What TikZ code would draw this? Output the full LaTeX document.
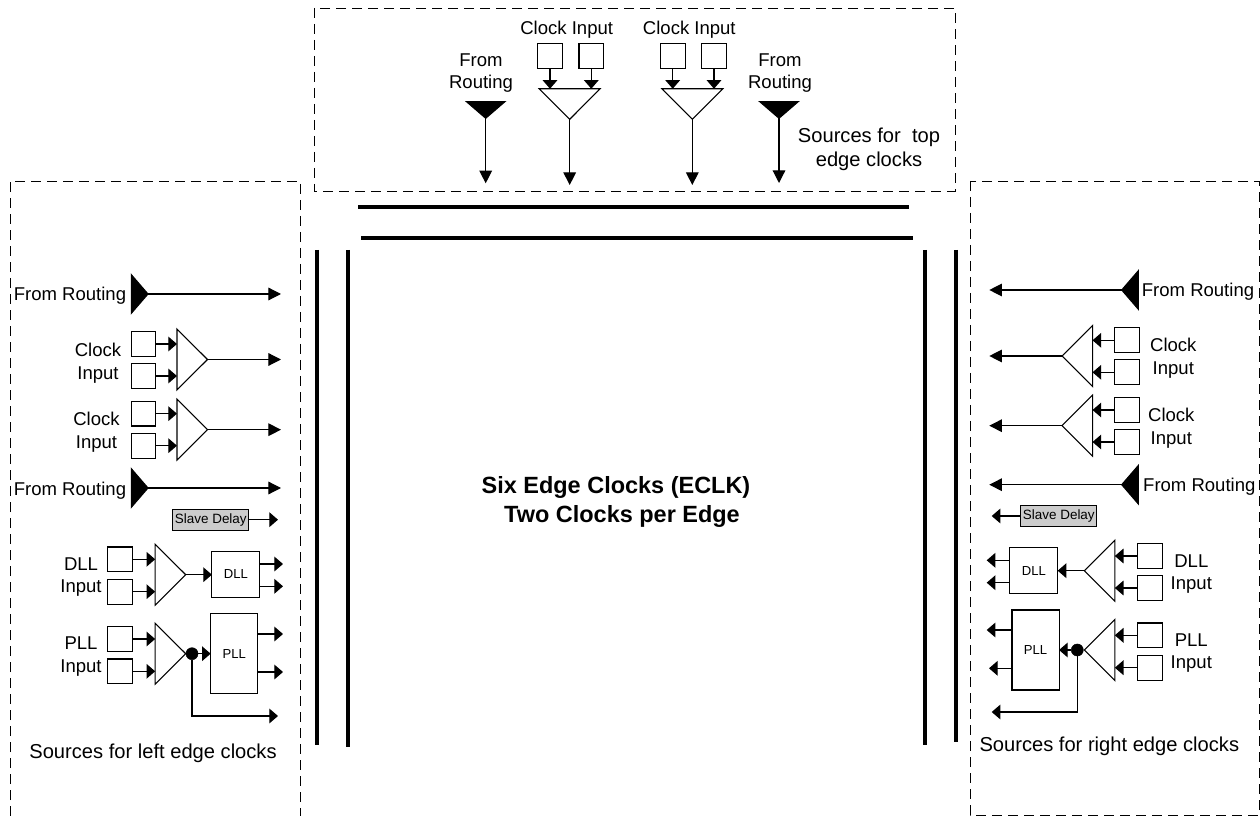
\documentclass[tikz,border=0pt]{standalone}
\usepackage{fontspec}
\setmainfont{Liberation Sans}
\usetikzlibrary{arrows.meta,shapes.geometric}
\tikzset{
	lbl/.style={inner sep=0,align=center,yshift=-1.5pt,font=\fontsize{13.9}{17}\selectfont},
	srclbl/.style={lbl,font=\fontsize{15.1}{18}\selectfont},
	sq/.style={draw,rectangle,line width=0.8pt,inner sep=0,outer sep=0,minimum size=18.5pt},
	blk/.style={draw,rectangle,line width=0.8pt,inner sep=0,outer sep=0,font=\fontsize{9.8}{12}\selectfont},
	dly/.style={blk,fill=black!20,minimum width=56.8pt,minimum height=16pt,font=\fontsize{10.1}{12}\selectfont},
	buf/.style={draw,isosceles triangle,isosceles triangle stretches,line width=0.8pt,inner sep=0,outer sep=0,
		minimum width=45.75pt,minimum height=22.9pt,anchor=apex},
	rte/.style={buf,fill=black,minimum width=29pt,minimum height=12.5pt},
	sig/.style={line width=0.9pt,-{Triangle[length=9.5pt,width=9.5pt]}},
	stub/.style={line width=0.9pt,-{Triangle[length=6.5pt,width=11pt]}},
	edgebar/.style={line width=3pt},
	frame/.style={line width=0.7pt,dash pattern=on 7.5pt off 4.5pt},
	jn/.style={draw,circle,fill=black,inner sep=0,outer sep=0,minimum size=9pt}
}
\begin{document}
\begin{tikzpicture}[x=0.75pt,y=-0.75pt]
	\useasboundingbox (0,0) rectangle (1260,816);
	\draw[frame] (10,816)--(10,181)--(300,181)--(300,816);
	\draw[frame] (314,8) rectangle (955,191);
	\draw[frame] (970,181) rectangle (1259,815);
	\draw[edgebar] (358,207)--(909,207);
	\draw[edgebar] (361,238)--(913,238);
	\draw[edgebar] (317,250)--(317,745);
	\draw[edgebar] (348,250)--(348,747);
	\draw[edgebar] (925,250)--(925,745);
	\draw[edgebar] (956,250)--(956,742);
	\draw (616,485) node (ttl1)[lbl,font=\fontsize{17.6}{22}\selectfont\bfseries]{Six Edge Clocks (ECLK)};
	\draw (622,514) node (ttl2)[lbl,font=\fontsize{17.6}{22}\selectfont\bfseries]{Two Clocks per Edge};

	% top edge
	\draw (481,71) node (tl1)[lbl]{From\\Routing};
	\draw (780,71) node (tl2)[lbl]{From\\Routing};
	\draw (566.7,27.5) node (tl3)[lbl]{Clock Input};
	\draw (689.3,27.5) node (tl4)[lbl]{Clock Input};
	\draw (869,147) node (tsrc)[srclbl]{Sources for~~top\\edge clocks};
	\draw (485.7,118.3) node (tr1)[rte,shape border rotate=-90]{};
	\draw (779,118.3) node (tr2)[rte,shape border rotate=-90]{};
	\draw (569.7,119.3) node (tb1)[buf,shape border rotate=-90]{};
	\draw (692.3,119.3) node (tb2)[buf,shape border rotate=-90]{};
	\draw (550,56) node (ts1)[sq]{};
	\draw (591.3,56) node (ts2)[sq]{};
	\draw (672.7,56) node (ts3)[sq]{};
	\draw (714,56) node (ts4)[sq]{};
	\coordinate (te1) at (485.7,183.3);
	\coordinate (te2) at (569.7,185);
	\coordinate (te3) at (692.3,185);
	\coordinate (te4) at (779,183);
	\draw[sig] (tr1.apex)--(te1);
	\draw[sig] (tb1.apex)--(te2);
	\draw[sig] (tb2.apex)--(te3);
	\draw[sig] (tr2.apex)--(te4);
	\draw[stub] (ts1.south)--(ts1.south|-tb1.lower side);
	\draw[stub] (ts2.south)--(ts2.south|-tb1.lower side);
	\draw[stub] (ts3.south)--(ts3.south|-tb2.lower side);
	\draw[stub] (ts4.south)--(ts4.south|-tb2.lower side);

	% left edge
	\draw (70,294) node (ll1)[lbl]{From Routing};
	\draw (70,489) node (ll2)[lbl]{From Routing};
	\draw (98,361) node (ll3)[lbl]{Clock\\Input};
	\draw (96.5,430) node (ll4)[lbl]{Clock\\Input};
	\draw (81,575) node (ll5)[lbl]{DLL\\Input};
	\draw (81,654.5) node (ll6)[lbl]{PLL\\Input};
	\draw (153,751) node (lsrc)[srclbl]{Sources for left edge clocks};
	\draw (148,294) node (lr1)[rte]{};
	\draw (148,488) node (lr2)[rte]{};
	\draw (207.5,359.5) node (lb1)[buf]{};
	\draw (207.5,429.7) node (lb2)[buf]{};
	\draw (185.7,574.7) node (lb3)[buf]{};
	\draw (185.7,653.7) node (lb4)[buf]{};
	\draw (143.5,344) node (ls1)[sq]{};
	\draw (143.5,376) node (ls2)[sq]{};
	\draw (143.5,413.7) node (ls3)[sq]{};
	\draw (143.5,445.7) node (ls4)[sq]{};
	\draw (119.7,559.3) node (ls5)[sq]{};
	\draw (119.7,591.7) node (ls6)[sq]{};
	\draw (119.7,639) node (ls7)[sq]{};
	\draw (119.7,671.3) node (ls8)[sq]{};
	\draw (210.8,519.7) node (ldly)[dly]{Slave Delay};
	\draw (235.8,574.3) node (ldll)[blk,minimum width=35.8pt,minimum height=34.5pt]{DLL};
	\draw (234.2,653.7) node (lpll)[blk,minimum width=35.3pt,minimum height=60pt]{PLL};
	\draw (192,653.7) node (ljn)[jn]{};
	\coordinate (le1) at (281,294);
	\coordinate (le2) at (281,359.5);
	\coordinate (le3) at (281,429.7);
	\coordinate (le4) at (281,488);
	\coordinate (le5) at (278,519.7);
	\coordinate (le6) at (283,564);
	\coordinate (le7) at (283,586.3);
	\coordinate (le8) at (283,634);
	\coordinate (le9) at (283,672);
	\coordinate (le10) at (278,716);
	\draw[sig] (lr1.apex)--(le1);
	\draw[sig] (lb1.apex)--(le2);
	\draw[sig] (lb2.apex)--(le3);
	\draw[sig] (lr2.apex)--(le4);
	\draw[stub] (ldly.east)--(le5);
	\draw[stub] (ldll.east|-le6)--(le6);
	\draw[stub] (ldll.east|-le7)--(le7);
	\draw[stub] (lpll.east|-le8)--(le8);
	\draw[stub] (lpll.east|-le9)--(le9);
	\draw[stub] (ljn)|-(le10);
	\draw[stub] (ls1.east)--(ls1.east-|lb1.lower side);
	\draw[stub] (ls2.east)--(ls2.east-|lb1.lower side);
	\draw[stub] (ls3.east)--(ls3.east-|lb2.lower side);
	\draw[stub] (ls4.east)--(ls4.east-|lb2.lower side);
	\draw[stub] (ls5.east)--(ls5.east-|lb3.lower side);
	\draw[stub] (ls6.east)--(ls6.east-|lb3.lower side);
	\draw[stub] (ls7.east)--(ls7.east-|lb4.lower side);
	\draw[stub] (ls8.east)--(ls8.east-|lb4.lower side);
	\draw[stub] (lb3.apex)--(lb3.apex-|ldll.west);
	\draw[stub] (ljn)--(lpll.west);

	% right edge
	\draw (1198,290) node (rl1)[lbl]{From Routing};
	\draw (1199.3,484.7) node (rl2)[lbl]{From Routing};
	\draw (1173.3,356.5) node (rl3)[lbl]{Clock\\Input};
	\draw (1171.3,426) node (rl4)[lbl]{Clock\\Input};
	\draw (1191.3,572) node (rl5)[lbl]{DLL\\Input};
	\draw (1191.3,651) node (rl6)[lbl]{PLL\\Input};
	\draw (1109.3,744) node (rsrc)[srclbl]{Sources for right edge clocks};
	\draw (1121.7,290) node (rr1)[rte,shape border rotate=180]{};
	\draw (1121.7,484.7) node (rr2)[rte,shape border rotate=180]{};
	\draw (1062,356) node (rb1)[buf,shape border rotate=180]{};
	\draw (1062,425.7) node (rb2)[buf,shape border rotate=180]{};
	\draw (1084.3,570.7) node (rb3)[buf,shape border rotate=180]{};
	\draw (1084.3,650) node (rb4)[buf,shape border rotate=180]{};
	\draw (1126.7,340.3) node (rs1)[sq]{};
	\draw (1126.7,372.3) node (rs2)[sq]{};
	\draw (1126.7,410) node (rs3)[sq]{};
	\draw (1126.7,442) node (rs4)[sq]{};
	\draw (1150,556) node (rs5)[sq]{};
	\draw (1150,588) node (rs6)[sq]{};
	\draw (1150,635.3) node (rs7)[sq]{};
	\draw (1150,667.7) node (rs8)[sq]{};
	\draw (1058.8,516) node (rdly)[dly]{Slave Delay};
	\draw (1033.8,570.7) node (rdll)[blk,minimum width=35.8pt,minimum height=34.5pt]{DLL};
	\draw (1035.5,650) node (rpll)[blk,minimum width=35.3pt,minimum height=60pt]{PLL};
	\draw (1077.3,650) node (rjn)[jn]{};
	\coordinate (re1) at (989.3,290);
	\coordinate (re2) at (989.3,356);
	\coordinate (re3) at (989.3,425.7);
	\coordinate (re4) at (989.3,484.7);
	\coordinate (re5) at (991.7,516);
	\coordinate (re6) at (986.7,560.3);
	\coordinate (re7) at (986.7,582.7);
	\coordinate (re8) at (986.7,630);
	\coordinate (re9) at (989,668.3);
	\coordinate (re10) at (991.7,712);
	\draw[sig] (rr1.apex)--(re1);
	\draw[sig] (rb1.apex)--(re2);
	\draw[sig] (rb2.apex)--(re3);
	\draw[sig] (rr2.apex)--(re4);
	\draw[stub] (rdly.west)--(re5);
	\draw[stub] (rdll.west|-re6)--(re6);
	\draw[stub] (rdll.west|-re7)--(re7);
	\draw[stub] (rpll.west|-re8)--(re8);
	\draw[stub] (rpll.west|-re9)--(re9);
	\draw[stub] (rjn)|-(re10);
	\draw[stub] (rs1.west)--(rs1.west-|rb1.lower side);
	\draw[stub] (rs2.west)--(rs2.west-|rb1.lower side);
	\draw[stub] (rs3.west)--(rs3.west-|rb2.lower side);
	\draw[stub] (rs4.west)--(rs4.west-|rb2.lower side);
	\draw[stub] (rs5.west)--(rs5.west-|rb3.lower side);
	\draw[stub] (rs6.west)--(rs6.west-|rb3.lower side);
	\draw[stub] (rs7.west)--(rs7.west-|rb4.lower side);
	\draw[stub] (rs8.west)--(rs8.west-|rb4.lower side);
	\draw[stub] (rb3.apex)--(rb3.apex-|rdll.east);
	\draw[stub] (rjn)--(rpll.east);
\end{tikzpicture}
\end{document}
